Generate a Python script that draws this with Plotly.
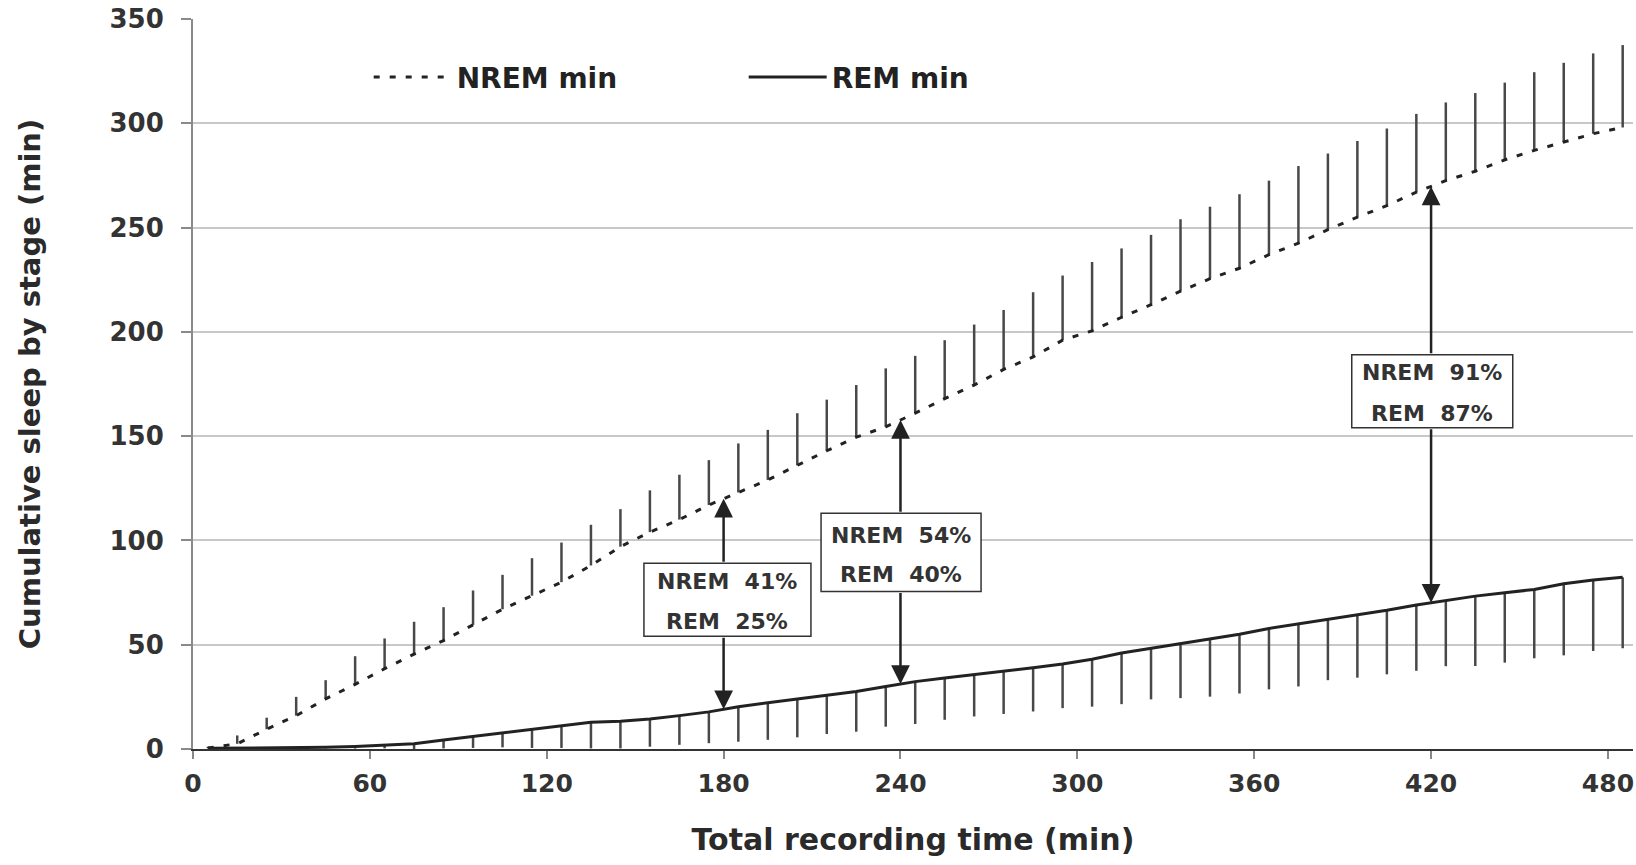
import numpy as np
import plotly.graph_objects as go

# ---------------- data ----------------
time_min = [5, 15, 25, 35, 45, 55, 65, 75, 85, 95,
            105, 115, 125, 135, 145, 155, 165, 175, 185, 195,
            205, 215, 225, 235, 245, 255, 265, 275, 285, 295,
            305, 315, 325, 335, 345, 355, 365, 375, 385, 395,
            405, 415, 425, 435, 445, 455, 465, 475, 485]

nrem_min = [0.5, 2.5, 9.5, 16, 24, 31, 38.5, 45.5, 52, 59.5,
            67, 73.5, 80, 88, 97, 104, 110, 117, 123, 129,
            136, 143, 149.5, 154.5, 161, 168, 174.5, 182, 188, 196,
            200.5, 207, 213, 219.5, 225.5, 230.5, 237, 242.5, 249, 255,
            260.5, 267, 272.5, 277, 282.5, 287, 291, 295, 298]

nrem_err_up = [0.5, 4, 5.5, 9, 9, 13.5, 14.5, 15.5, 16, 16.5,
               16.5, 18, 19, 19.5, 18, 20, 21.5, 21.5, 23.5, 24,
               25, 24.5, 25, 28, 27.5, 28, 29, 28.5, 31, 31,
               33, 33, 33.5, 34.5, 34.5, 35.5, 35.5, 37, 36.5, 36.5,
               37, 37.5, 37.5, 37.5, 37, 37.5, 38, 38.5, 39.5]

rem_min = [0.3, 0.4, 0.5, 0.6, 0.8, 1.2, 1.8, 2.5, 4.3, 6,
           7.8, 9.5, 11, 12.8, 13.3, 14.4, 16, 17.8, 20.3, 22,
           24, 25.8, 27.6, 30, 32.3, 34, 35.6, 37.4, 39, 40.8,
           43, 46, 48.2, 50.4, 52.6, 55, 57.8, 60, 62, 64.2,
           66.5, 69, 71.3, 73.3, 74.9, 76.5, 79.2, 81, 82.3]

rem_err_down = [0, 0, 0, 0, 0.5, 1, 1.5, 2.5, 4, 5.5,
                7, 9, 10.5, 12.5, 13, 13.3, 14, 15, 16.8, 17.6,
                18.4, 18.6, 19.3, 19.3, 20.3, 20, 20, 20.6, 21, 21.2,
                22.7, 24.5, 24.4, 26, 27.5, 28.4, 29.2, 30, 29, 30,
                30.7, 31.5, 31.6, 33.5, 33.5, 33, 34.3, 34, 34]

x_tick_vals = [0, 60, 120, 180, 240, 300, 360, 420, 480]
y_tick_vals = [0, 50, 100, 150, 200, 250, 300, 350]

# annotation boxes at three time points
marker_times = [180, 240, 420]
nrem_pct = ["41%", "54%", "91%"]
rem_pct = ["25%", "40%", "87%"]
box_center_x = [181.3, 240.2, 420.4]
box_top_y = [89, 113, 189]
box_bottom_y = [54, 75.5, 154]
box_w_px = [167, 160, 161]
line1_y = [80.5, 102.5, 180.5]
line2_y = [61, 83.5, 161]

FONT = "DejaVu Sans"
INK = "#222222"
X_MAX = 488.5
PLOT_W = 1636 - 193 - 3

fig = go.Figure()

fig.add_trace(go.Scatter(
    x=time_min, y=nrem_min, mode="lines", name="NREM min",
    line=dict(color=INK, width=3, dash="6px,10px"),
    error_y=dict(type="data", symmetric=False, array=nrem_err_up,
                 arrayminus=[0] * len(nrem_err_up),
                 color="#484848", thickness=2.5, width=0),
))
fig.add_trace(go.Scatter(
    x=time_min, y=rem_min, mode="lines", name="REM min",
    line=dict(color=INK, width=3),
    error_y=dict(type="data", symmetric=False, array=[0] * len(rem_err_down),
                 arrayminus=rem_err_down,
                 color="#484848", thickness=2.5, width=0),
))

annotations = []
for i, t in enumerate(marker_times):
    n_tip = float(np.interp(t, time_min, nrem_min))
    r_tip = float(np.interp(t, time_min, rem_min))
    annotations.append(dict(
        x=t, y=n_tip, ax=t, ay=box_top_y[i], xref="x", yref="y",
        axref="x", ayref="y", text="", showarrow=True,
        arrowhead=2, arrowsize=1.5, arrowwidth=2.5, arrowcolor=INK))
    annotations.append(dict(
        x=t, y=r_tip, ax=t, ay=box_bottom_y[i], xref="x", yref="y",
        axref="x", ayref="y", text="", showarrow=True,
        arrowhead=2, arrowsize=1.5, arrowwidth=2.5, arrowcolor=INK))

shapes = []
for i, t in enumerate(marker_times):
    half_w = box_w_px[i] / 2 / (PLOT_W / X_MAX)
    shapes.append(dict(
        type="rect", xref="x", yref="y",
        x0=box_center_x[i] - half_w, x1=box_center_x[i] + half_w,
        y0=box_bottom_y[i], y1=box_top_y[i],
        line=dict(color="#333333", width=1.5), fillcolor="white", layer="above"))
    annotations.append(dict(
        x=box_center_x[i], y=line1_y[i], xref="x", yref="y", showarrow=False,
        text="NREM  " + nrem_pct[i],
        font=dict(family=FONT, size=22, color="#333333", weight="bold")))
    annotations.append(dict(
        x=box_center_x[i], y=line2_y[i], xref="x", yref="y", showarrow=False,
        text="REM  " + rem_pct[i],
        font=dict(family=FONT, size=22, color="#333333", weight="bold")))

fig.update_layout(
    width=1636, height=865,
    margin=dict(l=193, r=3, t=19, b=116),
    paper_bgcolor="white", plot_bgcolor="white",
    font=dict(family=FONT, color="#333333"),
    showlegend=True,
    legend=dict(
        orientation="h", x=0.122, y=0.92, xanchor="left", yanchor="middle",
        itemwidth=78, entrywidth=282, bgcolor="rgba(0,0,0,0)",
        font=dict(family=FONT, size=28, color=INK, weight="bold"),
        itemclick=False,
    ),
    xaxis=dict(
        range=[0, X_MAX], tickvals=x_tick_vals, ticktext=[str(v) for v in x_tick_vals],
        automargin=False, ticklabeloverflow="allow",
        showgrid=False, zeroline=False,
        showline=True, linecolor="#333333", linewidth=2,
        ticks="outside", ticklen=8, tickwidth=2, tickcolor="#888888",
        ticklabelstandoff=3,
        tickfont=dict(family=FONT, size=25, color="#333333", weight="bold"),
        title=dict(text="Total recording time (min)", standoff=32,
                   font=dict(family=FONT, size=30, color="#2a2a2a", weight="bold")),
    ),
    yaxis=dict(
        range=[0, 350], tickvals=y_tick_vals,
        automargin=False,
        showgrid=True, gridcolor="#c8c8c8", gridwidth=2,
        zeroline=False,
        showline=True, linecolor="#8a8a8a", linewidth=2,
        ticks="outside", ticklen=10, tickwidth=2, tickcolor="#8a8a8a",
        ticklabelstandoff=12,
        tickfont=dict(family=FONT, size=26, color="#333333", weight="bold"),
        title=dict(text="Cumulative sleep by stage (min)", standoff=60,
                   font=dict(family=FONT, size=29, color="#2a2a2a", weight="bold")),
    ),
    annotations=annotations,
    shapes=shapes,
)

fig.write_html("out.html",
               config={"displayModeBar": False},
               post_script="document.body.style.margin='0';document.body.style.padding='0';")
